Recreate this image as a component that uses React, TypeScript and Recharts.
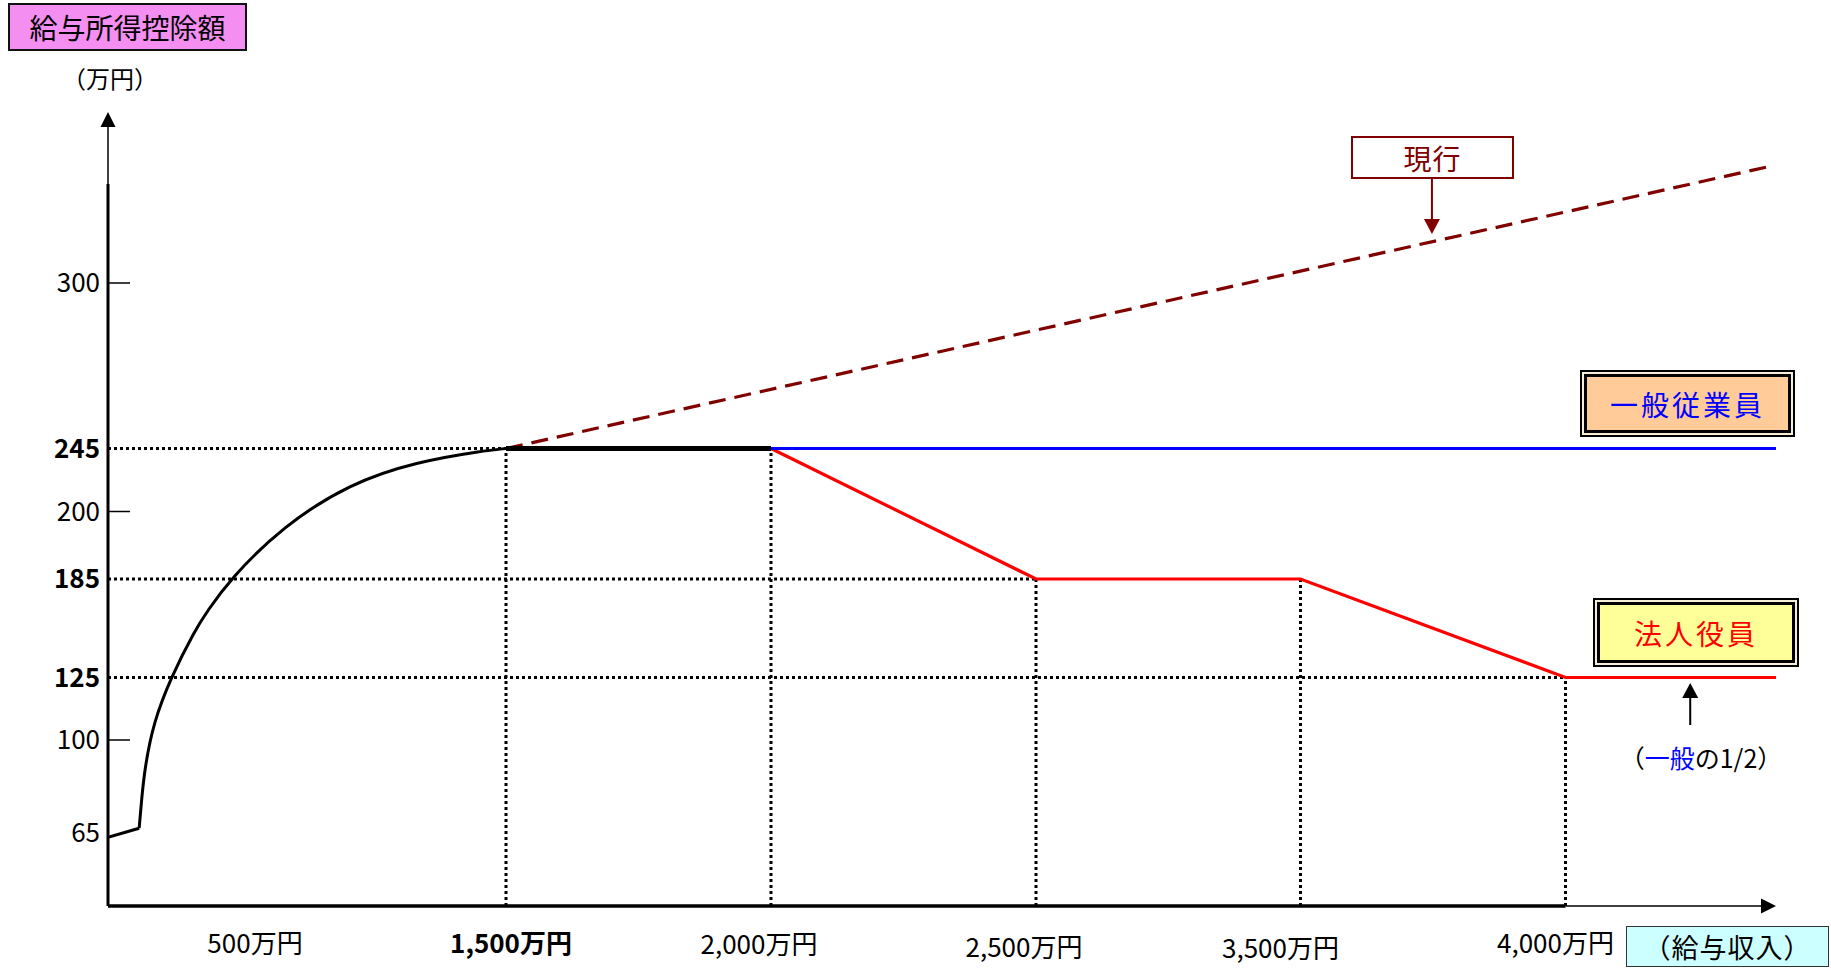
import React from "react"
import { Line, LineChart, ReferenceLine, XAxis, YAxis } from "recharts"

// 給与収入 (万円) / 給与所得控除額 (万円)
const floorIncome = [0, 106]
const floorDeduction = [63.2, 66.8]
const curveIncome = [106, 115, 126, 154, 214, 296, 336, 415, 613, 878, 1144, 1410, 1500]
const curveDeduction = [66.8, 78.6, 89.9, 106.7, 125, 153.9, 164.9, 185, 196.8, 220.1, 235.6, 243.4, 245]
const capIncome = [1500, 2000]
const capDeduction = [245, 245]
const employeeIncome = [2000, 4400]
const employeeDeduction = [245, 245]
const officerIncome = [2000, 2500, 3500, 4000, 4400]
const officerDeduction = [245, 185, 185, 125, 125]
const currentIncome = [1500, 4390]
const currentDeduction = [245, 341]

const xTicks = [500, 1500, 2000, 2500, 3500, 4000]
const xTickLabels = ["500万円", "1,500万円", "2,000万円", "2,500万円", "3,500万円", "4,000万円"]
const yTicks = [65, 100, 125, 185, 200, 245, 300]
const yBoldTicks = [125, 185, 245]
const yTickMarks = [100, 200, 300]

// dotted guides
const guideIncome = [1500, 2000, 2500, 3500, 4000]
const guideLevel = [245, 245, 185, 185, 125]
const hGuideLevel = [245, 185, 125]
const hGuideEnd = [1500, 2500, 4000]

const toRows = (xs: number[], ys: number[]) => xs.map((x, i) => ({ x, y: ys[i] }))

// the picture is not to scale: piecewise-linear scales
const X_MIN = 0
const X_MAX = 4400
const Y_MIN = 35
const Y_MAX = 360
const xStops = [0, 500, 1500, 2000, 2500, 3500, 4000, 4400]
const xStopPx = [108, 255, 506, 771, 1036, 1300.5, 1565.5, 1776]
const yStops = [35, 65, 100, 125, 185, 200, 245, 300, 360]
const yStopPx = [906, 833, 740, 677.5, 579, 511.5, 448.5, 283, 112]

function piecewiseScale(stops: number[], px: number[]) {
  const p0 = px[0]
  const p1 = px[px.length - 1]
  const fr = px.map((p) => (p - p0) / (p1 - p0))
  const make = (dom: number[], rng: number[]) => {
    let d = dom.slice()
    let r = rng.slice()
    const f: any = (v: number) => {
      let i = 0
      while (i < stops.length - 2 && v > stops[i + 1]) i++
      const t = fr[i] + ((fr[i + 1] - fr[i]) * (v - stops[i])) / (stops[i + 1] - stops[i])
      return r[0] + (r[1] - r[0]) * t
    }
    f.domain = (nd?: number[]) => {
      if (nd === undefined) return d.slice()
      d = nd.slice()
      return f
    }
    f.range = (nr?: number[]) => {
      if (nr === undefined) return r.slice()
      r = nr.slice()
      return f
    }
    f.copy = () => make(d, r)
    f.ticks = () => stops.slice()
    f.tickFormat = () => (v: number) => String(v)
    return f
  }
  return make([stops[0], stops[stops.length - 1]], [0, 1])
}

const xScale = piecewiseScale(xStops, xStopPx)
const yScale = piecewiseScale(yStops, yStopPx)

const FONT = "'Noto Sans CJK JP', 'Noto Sans', sans-serif"
const DARK_RED = "#800000"

const arrowShape = (color: string, width: number, head = 15, half = 7.5) => (p: any) => {
  const { x1, y1, x2, y2 } = p
  const a = Math.atan2(y2 - y1, x2 - x1)
  const bx = x2 - head * Math.cos(a)
  const by = y2 - head * Math.sin(a)
  const nx = -Math.sin(a) * half
  const ny = Math.cos(a) * half
  return (
    <g>
      <line x1={x1} y1={y1} x2={bx} y2={by} stroke={color} strokeWidth={width} />
      <polygon points={`${x2},${y2} ${bx + nx},${by + ny} ${bx - nx},${by - ny}`} fill={color} />
    </g>
  )
}

const xLabelShift: Record<number, [number, number]> = {
  500: [0, 0],
  1500: [5, 0],
  2000: [-12, 1],
  2500: [-12, 4],
  3500: [-20, 5],
  4000: [-10, 0],
}

const XTick = (props: any) => {
  const { x, y, payload } = props
  const i = xTicks.indexOf(payload.value)
  const [dx, dy] = xLabelShift[payload.value] || [0, 0]
  return (
    <text
      x={x + dx}
      y={y + 38 + dy}
      dy="0.36em"
      textAnchor="middle"
      fontFamily={FONT}
      fontSize={26}
      fontWeight={payload.value === 1500 ? 700 : 400}
      fill="#000"
    >
      {xTickLabels[i]}
    </text>
  )
}

const YTick = (props: any) => {
  const { x, y, payload } = props
  const bold = yBoldTicks.includes(payload.value)
  return (
    <g>
      {yTickMarks.includes(payload.value) && (
        <line x1={x + 8} x2={x + 30} y1={y} y2={y} stroke="#000" strokeWidth={1.5} />
      )}
      <text
        x={x}
        y={y}
        dy="0.36em"
        textAnchor="end"
        fontFamily={FONT}
        fontSize={26}
        fontWeight={bold ? 700 : 400}
        fill="#000"
      >
        {payload.value}
      </text>
    </g>
  )
}

const boxText = (color: string, size: number, spacing = 0): React.CSSProperties => ({
  color,
  fontSize: size,
  letterSpacing: spacing,
  fontFamily: FONT,
  lineHeight: 1,
  whiteSpace: "nowrap",
})

const DoubleBox = ({ left, top, width, height, fill, color, text }: any) => (
  <div
    style={{
      position: "absolute",
      left,
      top,
      width,
      height,
      boxSizing: "border-box",
      border: "2px solid #000",
      padding: 2,
      background: "#f6ecd8",
    }}
  >
    <div
      style={{
        boxSizing: "border-box",
        width: "100%",
        height: "100%",
        border: "3px solid #000",
        background: fill,
        display: "flex",
        alignItems: "center",
        justifyContent: "center",
      }}
    >
      <span style={boxText(color, 28, 3)}>{text}</span>
    </div>
  </div>
)

export default function App() {
  return (
    <div style={{ position: "absolute", left: 0, top: 0, width: 1831, height: 968, background: "#fff", fontFamily: FONT }}>
      <LineChart width={1831} height={968} margin={{ top: 112, right: 55, bottom: 0, left: 0 }}>
        <XAxis
          type="number"
          dataKey="x"
          domain={[X_MIN, X_MAX]}
          scale={xScale}
          allowDataOverflow
          ticks={xTicks}
          interval={0}
          axisLine={false}
          tickLine={false}
          tickSize={0}
          tickMargin={0}
          height={62}
          tick={<XTick />}
        />
        <YAxis
          type="number"
          dataKey="y"
          domain={[Y_MIN, Y_MAX]}
          scale={yScale}
          allowDataOverflow
          ticks={yTicks}
          interval={0}
          axisLine={false}
          tickLine={false}
          tickSize={0}
          tickMargin={8}
          width={108}
          tick={<YTick />}
        />

        {/* dotted guides */}
        {hGuideLevel.map((lv, i) => (
          <ReferenceLine
            key={"h" + lv}
            ifOverflow="visible"
            segment={[{ x: X_MIN, y: lv }, { x: hGuideEnd[i], y: lv }]}
            stroke="#000"
            strokeWidth={3}
            strokeDasharray="3 3"
          />
        ))}
        {guideIncome.map((inc, i) => (
          <ReferenceLine
            key={"v" + inc}
            ifOverflow="visible"
            segment={[{ x: inc, y: Y_MIN }, { x: inc, y: guideLevel[i] }]}
            stroke="#000"
            strokeWidth={3}
            strokeDasharray="3 3"
          />
        ))}

        {/* axes */}
        <ReferenceLine ifOverflow="visible" segment={[{ x: X_MIN, y: Y_MIN }, { x: X_MIN, y: 334.7 }]} stroke="#000" strokeWidth={3} />
        <ReferenceLine
          ifOverflow="visible"
          segment={[{ x: X_MIN, y: 334.7 }, { x: X_MIN, y: Y_MAX }]}
          shape={arrowShape("#000", 1.5)}
        />
        <ReferenceLine ifOverflow="visible" segment={[{ x: X_MIN, y: Y_MIN }, { x: 4000, y: Y_MIN }]} stroke="#000" strokeWidth={3.5} />
        <ReferenceLine
          ifOverflow="visible"
          segment={[{ x: 4000, y: Y_MIN }, { x: X_MAX, y: Y_MIN }]}
          shape={arrowShape("#000", 1.5)}
        />

        <Line data={toRows(currentIncome, currentDeduction)} dataKey="y" type="linear" stroke={DARK_RED} strokeWidth={3.2} strokeDasharray="17 9" dot={false} isAnimationActive={false} />
        <Line data={toRows(officerIncome, officerDeduction)} dataKey="y" type="linear" stroke="#ff0000" strokeWidth={3.2} dot={false} isAnimationActive={false} />
        <Line data={toRows(employeeIncome, employeeDeduction)} dataKey="y" type="linear" stroke="#0000ff" strokeWidth={3.2} dot={false} isAnimationActive={false} />
        <Line data={toRows(floorIncome, floorDeduction)} dataKey="y" type="linear" stroke="#000" strokeWidth={3} dot={false} isAnimationActive={false} />
        <Line data={toRows(curveIncome, curveDeduction)} dataKey="y" type="basis" stroke="#000" strokeWidth={3} dot={false} isAnimationActive={false} />
        <Line data={toRows(capIncome, capDeduction)} dataKey="y" type="linear" stroke="#000" strokeWidth={5} dot={false} isAnimationActive={false} />

        {/* annotation arrows */}
        <ReferenceLine
          ifOverflow="visible"
          segment={[{ x: 3748, y: 336.5 }, { x: 3748, y: 317.2 }]}
          shape={arrowShape(DARK_RED, 2, 15, 8)}
        />
        <ReferenceLine
          ifOverflow="visible"
          segment={[{ x: 4237, y: 106 }, { x: 4237, y: 122.8 }]}
          shape={arrowShape("#000", 2, 15, 8)}
        />
      </LineChart>

      {/* y-axis title */}
      <div
        style={{
          position: "absolute",
          left: 8,
          top: 3,
          width: 239,
          height: 48,
          boxSizing: "border-box",
          border: "2px solid #111",
          background: "#f48ef0",
          display: "flex",
          alignItems: "center",
          justifyContent: "center",
        }}
      >
        <span style={boxText("#000", 28)}>給与所得控除額</span>
      </div>
      <div style={{ position: "absolute", left: 62, top: 66, ...boxText("#000", 24) }}>（万円）</div>

      {/* 現行 */}
      <div
        style={{
          position: "absolute",
          left: 1351,
          top: 136,
          width: 163,
          height: 43,
          boxSizing: "border-box",
          border: `2px solid ${DARK_RED}`,
          background: "#fff",
          display: "flex",
          alignItems: "center",
          justifyContent: "center",
        }}
      >
        <span style={boxText(DARK_RED, 28, 1)}>現行</span>
      </div>

      <DoubleBox left={1580} top={370} width={215} height={67} fill="#ffcc99" color="#0000ff" text="一般従業員" />
      <DoubleBox left={1593} top={598} width={206} height={69} fill="#ffff99" color="#ff0000" text="法人役員" />

      <div
        style={{
          position: "absolute",
          left: 1701,
          top: 757,
          transform: "translate(-50%, -50%)",
          ...boxText("#000", 25),
        }}
      >
        （<span style={{ color: "#0000ff" }}>一般</span>の1/2）
      </div>

      {/* x-axis title */}
      <div
        style={{
          position: "absolute",
          left: 1626,
          top: 926,
          width: 203,
          height: 41,
          boxSizing: "border-box",
          border: "1.5px solid #333",
          background: "#ccffff",
          display: "flex",
          alignItems: "center",
          justifyContent: "center",
        }}
      >
        <span style={boxText("#000", 27, 1)}>（給与収入）</span>
      </div>
    </div>
  )
}
